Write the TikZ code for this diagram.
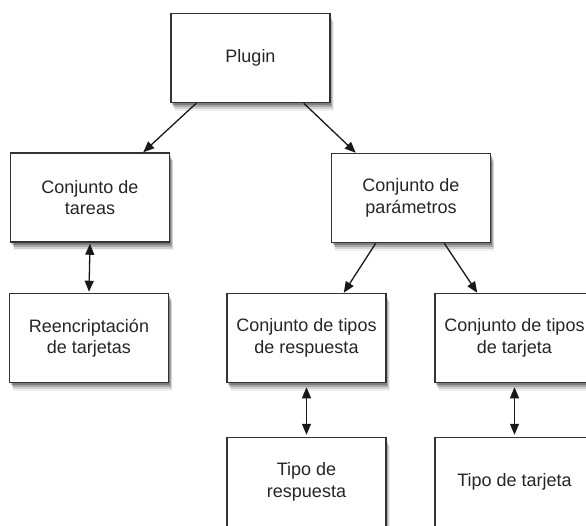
\documentclass[tikz,border=0pt]{standalone}
\usepackage{fontspec}
\setmainfont{Liberation Sans}
\usetikzlibrary{shadows,arrows.meta}
\begin{document}
\begin{tikzpicture}[x=1pt,y=-1pt,
  box/.style={draw=black!80, line width=1.5pt, fill=white,
    minimum width=159pt, minimum height=89pt, inner sep=0pt,
    align=center, text=black!85,
    font=\fontsize{18}{21.5}\selectfont,
    drop shadow={shadow xshift=1pt, shadow yshift=-2.5pt, opacity=0.25, fill=black},
    drop shadow={shadow xshift=2pt, shadow yshift=-4.5pt, opacity=0.2, fill=black},
    drop shadow={shadow xshift=3pt, shadow yshift=-6.5pt, opacity=0.12, fill=black},
    drop shadow={shadow xshift=3.5pt, shadow yshift=-8pt, opacity=0.06, fill=black}},
  conn/.style={line width=1.3pt, draw=black!90, -{Triangle[length=11pt,width=9pt]}},
  dconn/.style={line width=1.3pt, draw=black!90, {Triangle[length=11pt,width=9pt]}-{Triangle[length=11pt,width=9pt]}}]
\path[use as bounding box, clip] (0,0) rectangle (586,525);
\fill[white] (0,0) rectangle (586,525);

\node[box] (plugin) at (250.5,58) {Plugin};
\node[box] (tareas) at (90,197.5) {Conjunto de\\tareas};
\node[box] (param) at (411,198) {Conjunto de\\parámetros};
\node[box] (reenc) at (89,338) {Reencriptación\\de tarjetas};
\node[box] (resp) at (306.5,338) {Conjunto de tipos\\de respuesta};
\node[box] (tarj) at (514.5,338) {Conjunto de tipos\\de tarjeta};
\node[box] (tiporesp) at (306.5,482) {Tipo de\\respuesta};
\node[box] (tipotarj) at (514.5,482) {Tipo de tarjeta};

\draw[conn] ([xshift=26pt]plugin.south west) -- ([xshift=-27pt]tareas.north east);
\draw[conn] ([xshift=-27pt]plugin.south east) -- ([xshift=25pt]param.north west);
\draw[conn] ([xshift=45pt]param.south west) -- ([xshift=-43pt]resp.north east);
\draw[conn] ([xshift=-47pt]param.south east) -- ([xshift=43pt]tarj.north west);

\draw[dconn] ([yshift=-1pt]tareas.south) -- ([yshift=1pt]reenc.north);
\draw[dconn] ([yshift=-4pt]resp.south) -- ([yshift=2pt]tiporesp.north);
\draw[dconn] ([yshift=-4pt]tarj.south) -- ([yshift=2pt]tipotarj.north);
\end{tikzpicture}
\end{document}
